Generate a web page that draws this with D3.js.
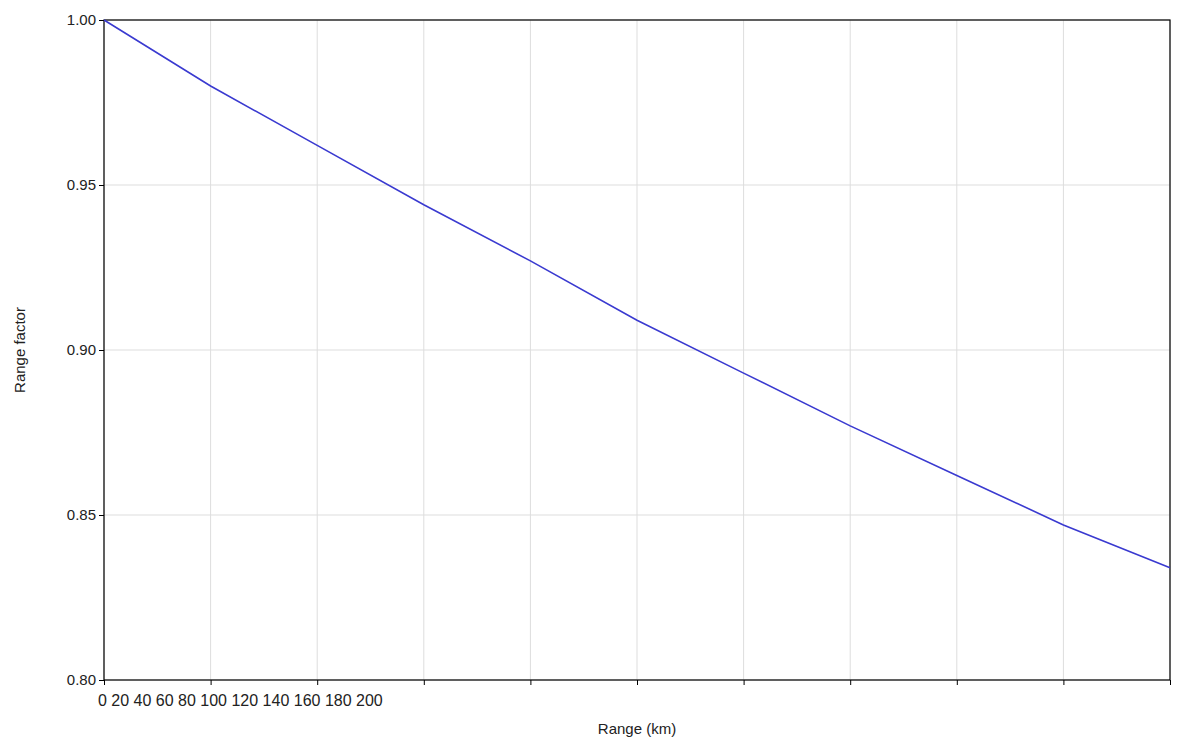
<!DOCTYPE html>
<html><head><meta charset="utf-8">
<script src="https://cdn.jsdelivr.net/npm/d3@7"></script>
<style>body{margin:0;background:#fff;font-family:"Liberation Sans",Arial,sans-serif}</style>
</head><body><svg id="c" width="1179" height="743"></svg>
<script>
const rangeKm = [0,20,40,60,80,100,120,140,160,180,200];
const factor = [1.000,0.980,0.962,0.944,0.927,0.909,0.893,0.877,0.862,0.847,0.834];
const xTickLabels = ["0","20","40","60","80","100","120","140","160","180","200"];
const yTicks = [0.80,0.85,0.90,0.95,1.00];

const svg = d3.select("#c");
const m = {l:104, r:1170, t:20, b:680};
const x = d3.scaleLinear().domain([0,200]).range([m.l,m.r]);
const y = d3.scaleLinear().domain([0.8,1.0]).range([m.b,m.t]);

const g = svg.append("g");
g.selectAll(".vg").data(rangeKm).join("line")
 .attr("x1",d=>x(d)).attr("x2",d=>x(d)).attr("y1",m.t).attr("y2",m.b)
 .attr("stroke","#ddd");
g.selectAll(".hg").data(yTicks).join("line")
 .attr("x1",m.l).attr("x2",m.r).attr("y1",d=>y(d)).attr("y2",d=>y(d))
 .attr("stroke","#ddd");

svg.append("g").attr("transform",`translate(0,${m.b})`)
 .call(d3.axisBottom(x).tickValues(rangeKm).tickFormat("").tickSize(5))
 .call(a=>a.select(".domain").remove());
svg.append("g").attr("transform",`translate(${m.l},0)`)
 .call(d3.axisLeft(y).tickValues(yTicks).tickFormat(d3.format(".2f")).tickSize(5))
 .call(a=>a.select(".domain").remove())
 .call(a=>a.selectAll("text").attr("font-size",15).attr("font-family","Liberation Sans, Arial").attr("fill","#222"));

svg.append("rect").attr("x",m.l).attr("y",m.t).attr("width",m.r-m.l).attr("height",m.b-m.t)
 .attr("fill","none").attr("stroke","#000").attr("stroke-width",1.2);

svg.append("text").attr("x",98).attr("y",706).attr("font-size",16).attr("fill","#222")
 .text(xTickLabels.join(" "));

svg.append("text").attr("x",637).attr("y",734).attr("text-anchor","middle").attr("font-size",15).attr("fill","#222").text("Range (km)");
svg.append("text").attr("transform","translate(25,350) rotate(-90)").attr("text-anchor","middle").attr("font-size",15).attr("fill","#222").text("Range factor");

svg.append("path").datum(rangeKm.map((r,i)=>[r,factor[i]]))
 .attr("d",d3.line().x(d=>x(d[0])).y(d=>y(d[1])))
 .attr("fill","none").attr("stroke","#3a3ad0").attr("stroke-width",1.6);
</script></body></html>
